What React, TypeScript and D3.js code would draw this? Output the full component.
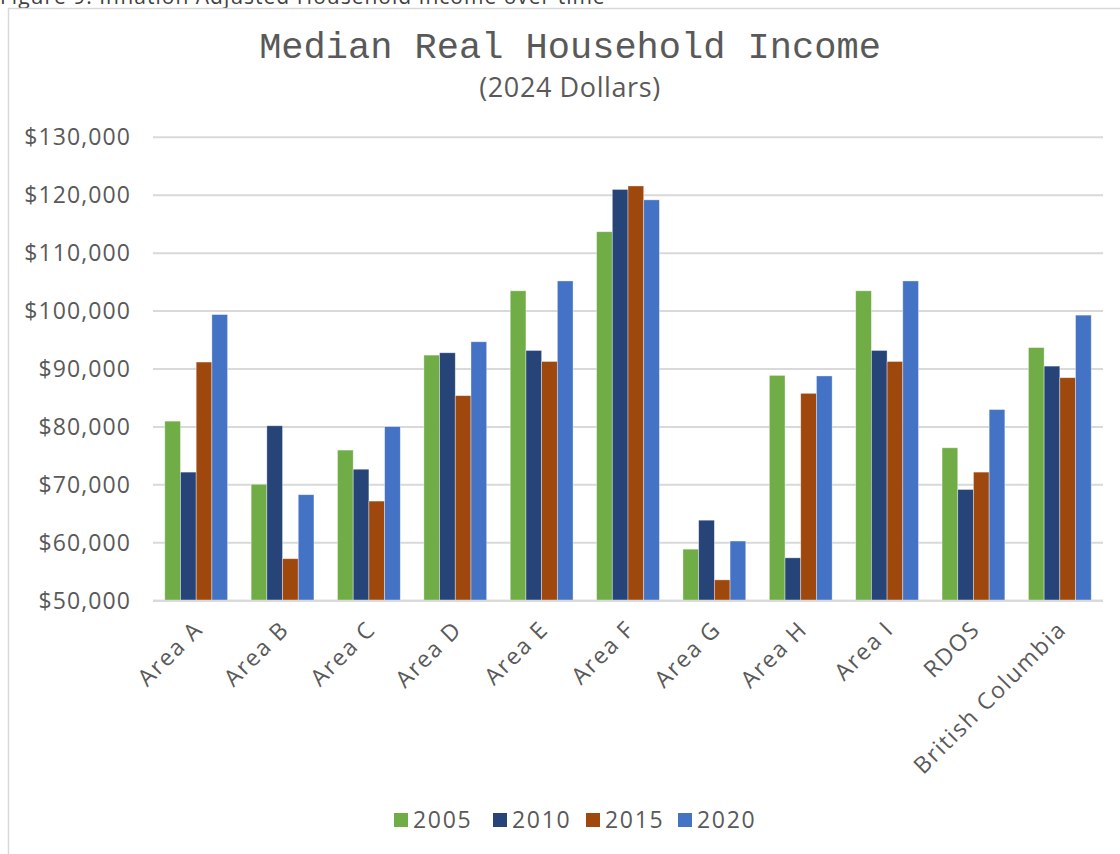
import React from "react";
import * as d3 from "d3";

const categories = ["Area A", "Area B", "Area C", "Area D", "Area E", "Area F", "Area G", "Area H", "Area I", "RDOS", "British Columbia"];
const seriesNames = ["2005", "2010", "2015", "2020"];
const values2005 = [81000, 70100, 76000, 92400, 103500, 113700, 58900, 88900, 103500, 76400, 93700];
const values2010 = [72200, 80200, 72700, 92800, 93200, 121000, 63900, 57400, 93200, 69200, 90500];
const values2015 = [91200, 57250, 67200, 85400, 91300, 121600, 53600, 85800, 91300, 72200, 88500];
const values2020 = [99400, 68300, 80050, 94700, 105200, 119200, 60300, 88800, 105200, 83000, 99300];
const colors = ["#70AD47", "#264478", "#9E480E", "#4472C4"];
const yTicks = [50000, 60000, 70000, 80000, 90000, 100000, 110000, 120000, 130000];

const seriesValues = [values2005, values2010, values2015, values2020];

export default function App() {
  const W = 1120, H = 854;
  const left = 153, right = 1103, top = 137.3, bottom = 600.7;
  const x0 = d3.scaleBand<string>().domain(categories).range([left, right]).paddingInner(1.5 / 5.5).paddingOuter(0.75 / 5.5);
  const x1 = d3.scaleBand<string>().domain(seriesNames).range([0, x0.bandwidth()]);
  const y = d3.scaleLinear().domain([50000, 130000]).range([bottom, top]);
  const fmt = (v: number) => "$" + d3.format(",")(v);
  const font = "'Open Sans', sans-serif";
  const txt = "#595959";

  const legendItems = seriesNames.map((s, i) => ({ s, i }));
  const legendX = [394, 493, 586, 678];

  return (
    <svg width={W} height={H} style={{ position: "absolute", left: 0, top: 0, background: "#fff" }}>
      <rect x={0} y={0} width={W} height={H} fill="#fff" />
      <text x={0} y={4} fontFamily={font} fontSize={21} letterSpacing={1} fill="#404040">Figure 9: Inflation Adjusted Household Income over time</text>
      <rect x={8.5} y={8.5} width={1130} height={870} fill="#fff" stroke="#d9d9d9" strokeWidth={1.5} />
      <text x={570} y={58} textAnchor="middle" fontFamily="'Liberation Mono', 'Courier New', monospace" fontSize={37} fill={txt}>Median Real Household Income</text>
      <text x={570} y={97} textAnchor="middle" fontFamily={font} fontSize={27} letterSpacing={0.6} fill={txt}>(2024 Dollars)</text>
      {yTicks.map(t => (
        <g key={t}>
          <line x1={left} x2={right} y1={y(t)} y2={y(t)} stroke="#d9d9d9" strokeWidth={2} />
          <text x={131} y={y(t)} dy="0.35em" textAnchor="end" fontFamily={font} fontSize={23} letterSpacing={1.1} fill={txt}>{fmt(t)}</text>
        </g>
      ))}
      {categories.map((c, ci) => (
        <g key={c}>
          {seriesNames.map((s, si) => {
            const v = seriesValues[si][ci];
            const bx = (x0(c) as number) + (x1(s) as number);
            return (
              <rect key={s} x={bx} y={y(v)} width={x1.bandwidth()} height={y(50000) - y(v)} fill={colors[si]} stroke="#ffffff" strokeOpacity={0.5} strokeWidth={0.75} />
            );
          })}
          <text
            transform={`translate(${(x0(c) as number) + x0.bandwidth() / 2 + 8},${bottom + 30}) rotate(-45)`}
            textAnchor="end"
            fontFamily={font}
            fontSize={23}
            letterSpacing={1.7}
            fill={txt}
          >{c}</text>
        </g>
      ))}
      <line x1={left} x2={right} y1={bottom} y2={bottom} stroke="#d9d9d9" strokeWidth={2} />
      {legendItems.map(({ s, i }) => (
        <g key={s}>
          <rect x={legendX[i]} y={813} width={14} height={14} fill={colors[i]} />
          <text x={legendX[i] + 19} y={828} fontFamily={font} fontSize={23} letterSpacing={1.7} fill={txt}>{s}</text>
        </g>
      ))}
    </svg>
  );
}
